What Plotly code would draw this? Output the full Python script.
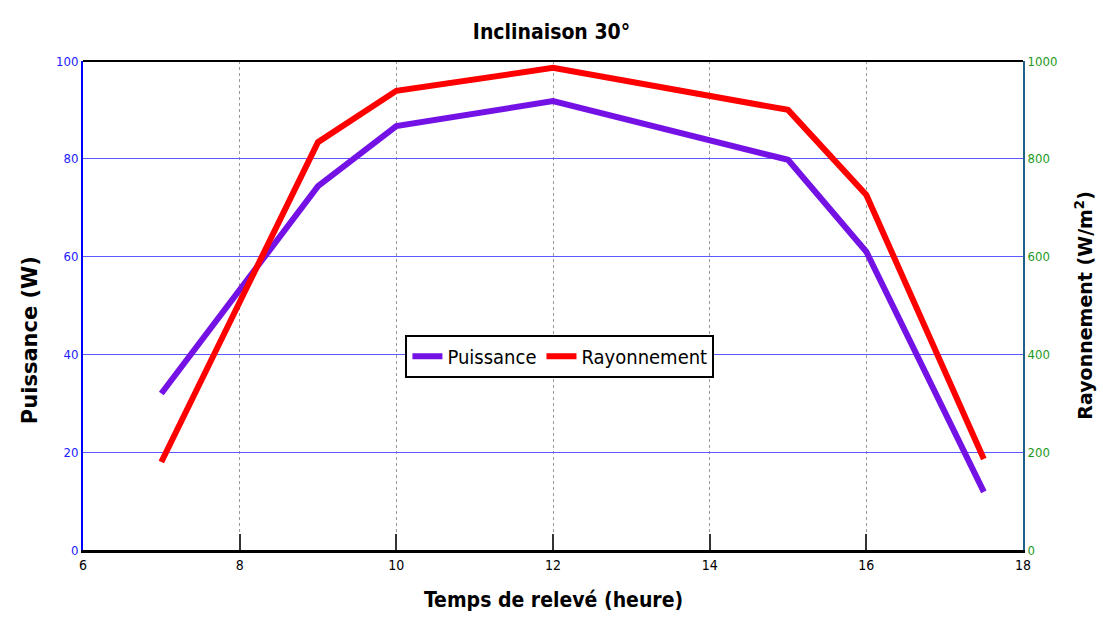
import plotly.graph_objects as go

# Measurement times (hours)
heures = [7, 9, 10, 12, 15, 16, 17.5]
# Panel power (W)
puissance = [32, 74.4, 86.7, 91.8, 79.8, 61, 11.9]
# Irradiance (W/m²)
rayonnement = [180, 834, 939, 986, 900, 726, 186]

x_ticks = [6, 8, 10, 12, 14, 16, 18]
y_ticks = [0, 20, 40, 60, 80, 100]
y2_ticks = [0, 200, 400, 600, 800, 1000]

NARROW = "DejaVu Sans Condensed, Liberation Sans Narrow, Arial Narrow, Liberation Sans"
WIDE = "DejaVu Sans, Verdana, Arial"

fig = go.Figure()
fig.add_trace(go.Scatter(
    x=heures, y=puissance, mode="lines", name="Puissance",
    line=dict(color="#7412e6", width=6), yaxis="y"))
fig.add_trace(go.Scatter(
    x=heures, y=rayonnement, mode="lines", name="Rayonnement",
    line=dict(color="#ff0000", width=6), yaxis="y2"))

fig.update_layout(
    width=1103, height=617,
    margin=dict(l=83, r=80, t=61, b=67, autoexpand=False),
    paper_bgcolor="white", plot_bgcolor="white",
    title=dict(text="<b>Inclinaison 30°</b>", x=0.5, xanchor="center",
               y=0.948, yanchor="middle",
               font=dict(family=NARROW, size=21, color="black")),
    xaxis=dict(
        range=[6, 18], tickvals=x_ticks, ticktext=[str(v) for v in x_ticks],
        showgrid=True, gridcolor="#9a9a9a", griddash="dot", gridwidth=1,
        showline=True, linecolor="black", linewidth=3,
        ticks="inside", ticklen=16, tickwidth=2, tickcolor="#333333",
        tickfont=dict(family=NARROW, size=14, color="black"),
        automargin=False, zeroline=False),
    yaxis=dict(
        range=[0, 100], tickvals=y_ticks,
        showgrid=True, gridcolor="#5a5aff", gridwidth=1,
        showline=True, linecolor="#0000ff", linewidth=2,
        ticks="", tickfont=dict(family=NARROW, size=13, color="#2020ff"),
        automargin=False, zeroline=False),
    yaxis2=dict(
        range=[0, 1000], tickvals=y2_ticks, overlaying="y", side="right",
        showgrid=False, showline=True, linecolor="#1f5f8a", linewidth=2,
        ticks="", tickfont=dict(family=NARROW, size=13, color="#1a9a1a"),
        automargin=False, zeroline=False),
    legend=dict(
        x=0.343, y=0.44, xanchor="left", yanchor="top",
        orientation="h", bgcolor="white", bordercolor="black", borderwidth=2,
        font=dict(family=NARROW, size=20, color="black"),
        itemwidth=30, tracegroupgap=0),
    shapes=[dict(type="line", xref="paper", yref="paper", x0=0, x1=1, y0=1, y1=1,
                 line=dict(color="black", width=2))],
    annotations=[
        dict(text="<b>Temps de relevé (heure)</b>", xref="paper", yref="paper",
             x=0.5, y=-0.102, xanchor="center", yanchor="middle", showarrow=False,
             font=dict(family=NARROW, size=21, color="black")),
        dict(text="<b>Puissance (W)</b>", xref="paper", yref="paper",
             x=-0.057, y=0.43, xanchor="center", yanchor="middle", showarrow=False,
             textangle=-90, font=dict(family=WIDE, size=21, color="black")),
        dict(text="<b>Rayonnement (W/m<sup>2</sup>)</b>", xref="paper", yref="paper",
             x=1.064, y=0.5, xanchor="center", yanchor="middle", showarrow=False,
             textangle=-90, font=dict(family=WIDE, size=19, color="black")),
    ],
    showlegend=True,
)

fig.write_html("out.html")
